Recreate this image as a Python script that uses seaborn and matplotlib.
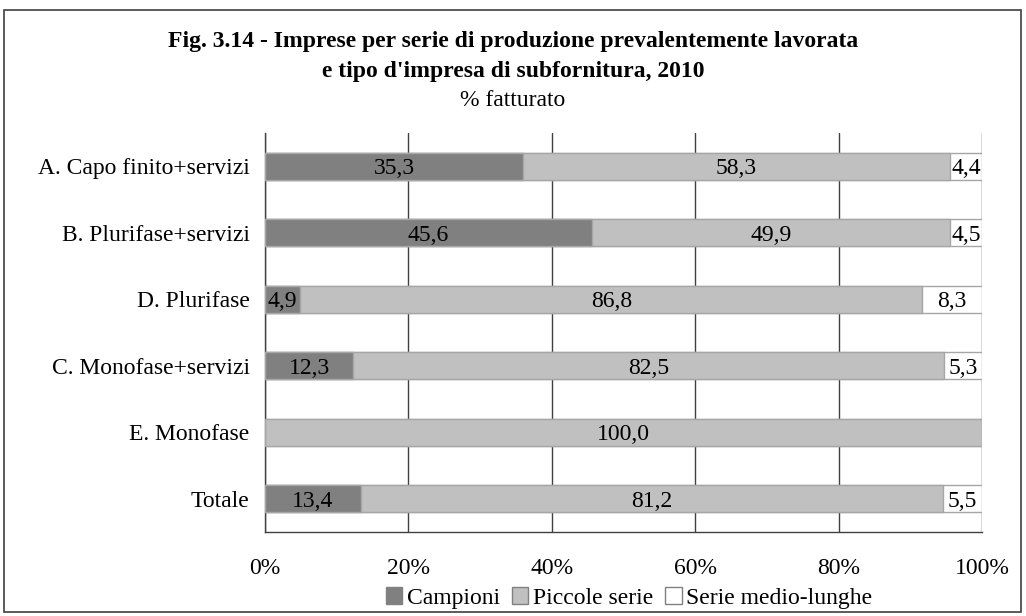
import numpy as np
import pandas as pd
import matplotlib.pyplot as plt
import seaborn as sns
from matplotlib.patches import Patch, Rectangle
from matplotlib.ticker import FixedLocator

# Data (% fatturato)
categorie = [
    "A. Capo finito+servizi",
    "B. Plurifase+servizi",
    "D. Plurifase",
    "C. Monofase+servizi",
    "E. Monofase",
    "Totale",
]
campioni = [35.3, 45.6, 4.9, 12.3, 0.0, 13.4]
piccole_serie = [58.3, 49.9, 86.8, 82.5, 100.0, 81.2]
serie_medio_lunghe = [4.4, 4.5, 8.3, 5.3, 0.0, 5.5]

serie_nomi = ["Campioni", "Piccole serie", "Serie medio-lunghe"]
colori = ["#808080", "#c0c0c0", "#ffffff"]

sns.set_style("white")
plt.rcParams["font.family"] = ["Liberation Serif", "DejaVu Serif"]
plt.rcParams["text.color"] = "black"
plt.rcParams["xtick.labelcolor"] = "black"
plt.rcParams["ytick.labelcolor"] = "black"
FS = 17

df = pd.DataFrame({
    "categoria": categorie,
    "Campioni": campioni,
    "Piccole serie": piccole_serie,
    "Serie medio-lunghe": serie_medio_lunghe,
})

# 100% stacked: normalise each row
tot = df[serie_nomi].sum(axis=1)
quote = df[serie_nomi].div(tot, axis=0) * 100
cum = quote.cumsum(axis=1)

fig = plt.figure(figsize=(10.26, 6.16), dpi=100)
ax = fig.add_axes([265 / 1026, 1 - 532 / 616, 717 / 1026, 399 / 616])

# draw cumulative bars from the longest to the shortest
for i in range(len(serie_nomi) - 1, -1, -1):
    nome = serie_nomi[i]
    sns.barplot(
        x=cum[nome],
        y=df["categoria"],
        orient="h",
        color=colori[i],
        edgecolor="#a6a6a6",
        linewidth=1,
        width=0.41,
        ax=ax,
        zorder=3,
    )

# Value labels
for j, cat in enumerate(categorie):
    left = 0
    for nome in serie_nomi:
        w = quote.loc[j, nome]
        v = df.loc[j, nome]
        if v > 0:
            ax.text(left + w / 2, j, f"{v:.1f}".replace(".", ","),
                    ha="center", va="center_baseline", fontsize=FS, zorder=5)
        left += w

ax.set_xlim(0, 100)
ax.set_ylim(len(categorie) - 0.5, -0.5)
ax.set_xticks(np.arange(0, 101, 20))
ax.set_xticklabels([f"{t}%" for t in range(0, 101, 20)], fontsize=FS)
ax.tick_params(axis="x", direction="out", length=6, width=1,
               color="#404040", pad=13)
ax.tick_params(axis="y", which="major", length=0, pad=11, labelsize=FS)
ax.yaxis.set_minor_locator(FixedLocator(np.arange(-0.5, len(categorie), 1)))
ax.tick_params(axis="y", which="minor", direction="out", length=6,
               width=1, color="#404040")
ax.set_xlabel("")
ax.set_ylabel("")

ax.grid(axis="x", color="#404040", linewidth=1, zorder=0)
ax.set_axisbelow(True)
for s in ["top", "right"]:
    ax.spines[s].set_visible(False)
for s in ["left", "bottom"]:
    ax.spines[s].set_color("#404040")
    ax.spines[s].set_linewidth(1)

# Titles
fig.text(0.5, 1 - 42 / 616, "Fig. 3.14 - Imprese per serie di produzione prevalentemente lavorata",
         ha="center", va="center", fontsize=FS, fontweight="bold")
fig.text(0.5, 1 - 72 / 616, "e tipo d'impresa di subfornitura, 2010",
         ha="center", va="center", fontsize=FS, fontweight="bold")
fig.text(0.5, 1 - 100 / 616, "% fatturato", ha="center", va="center", fontsize=FS)

# Legend
handles = [Patch(facecolor=c, edgecolor="#808080", linewidth=1) for c in colori]
fig.legend(handles, serie_nomi, loc="center", bbox_to_anchor=(629 / 1026, 1 - 598 / 616),
           ncol=3, frameon=False, fontsize=FS, handlelength=0.7, handleheight=0.7,
           handletextpad=0.2, columnspacing=0.5, borderpad=0)

# Outer border
fig.patches.append(Rectangle((4 / 1026, 4 / 616), 1017 / 1026, 602 / 616,
                             transform=fig.transFigure, fill=False,
                             edgecolor="#404040", linewidth=1.2))

fig.savefig("out.png", dpi=100)
